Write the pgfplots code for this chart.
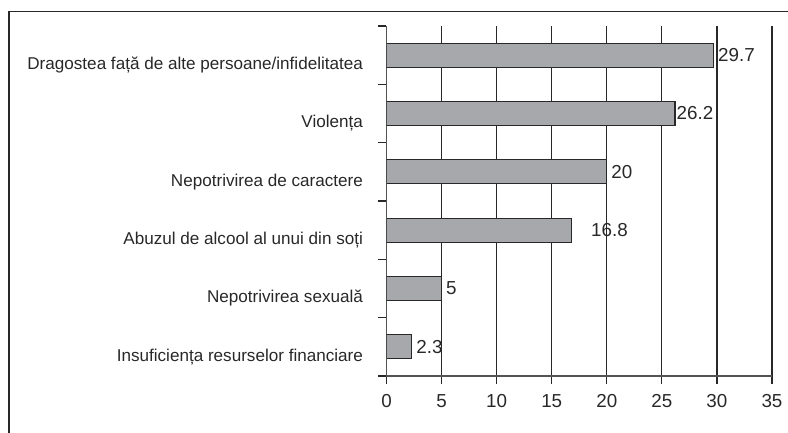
\documentclass[border=0pt]{standalone}
\usepackage{fontspec}
\setmainfont{Liberation Sans}
\usepackage{pgfplots}
\usepackage{pgfplotstable}
\pgfplotsset{compat=1.18}

\definecolor{barfill}{RGB}{167,168,172}
\definecolor{ink}{RGB}{40,40,40}

% y: 0 = bottom category, dx = label offset
\pgfplotstableread{
y  x     dx
0  2.3   4
1  5     4
2  16.8  19
3  20    4
4  26.2  1
5  29.7  4
}\causes

\begin{document}
\begin{tikzpicture}[x=1pt,y=1pt]
\useasboundingbox (0,0) rectangle (788,433);
\draw[ink, line width=1.2pt] (9,-5) -- (9,421.5) -- (795,421.5);
\begin{axis}[
    at={(386.5pt,57pt)}, anchor=south west,
    scale only axis,
    width=385.5pt, height=350pt,
    xbar, bar width=24pt,
    xmin=0, xmax=35,
    ymin=-0.5, ymax=5.5,
    xtick={0,5,...,35},
    ytick={-0.5,0.5,...,5.5},
    yticklabels={Insuficiența resurselor financiare,
        Nepotrivirea sexuală,
        Abuzul de alcool al unui din soți,
        Nepotrivirea de caractere,
        Violența\ ,
        Dragostea față de alte persoane/infidelitatea, {}},
    yticklabel style={anchor=base east, yshift=14.9pt, font=\fontsize{17.1}{20}\selectfont, text=ink, xshift=-12pt},
    xticklabel style={font=\fontsize{18.8}{22}\selectfont, text=ink, yshift=-7pt},
    /pgf/number format/assume math mode=true,
    axis x line*=bottom, axis y line*=left,
    axis line style={draw=ink!80, line width=1.2pt, -},
    tick align=outside, major tick length=8pt,
    tick style={draw=ink, line width=1.2pt},
    xmajorgrids=true,
    major grid style={draw=ink, line width=1.2pt},
    nodes near coords,
    nodes near coords style={font=\fontsize{18.8}{22}\selectfont, text=ink, anchor=west, inner sep=0pt, xshift=\dx pt},
    visualization depends on={\thisrow{dx} \as \dx},
    point meta=explicit,
]
\addplot[fill=barfill, draw=ink, line width=1.2pt] table[x=x, y=y, meta=x] {\causes};
\end{axis}
\end{tikzpicture}
\end{document}
